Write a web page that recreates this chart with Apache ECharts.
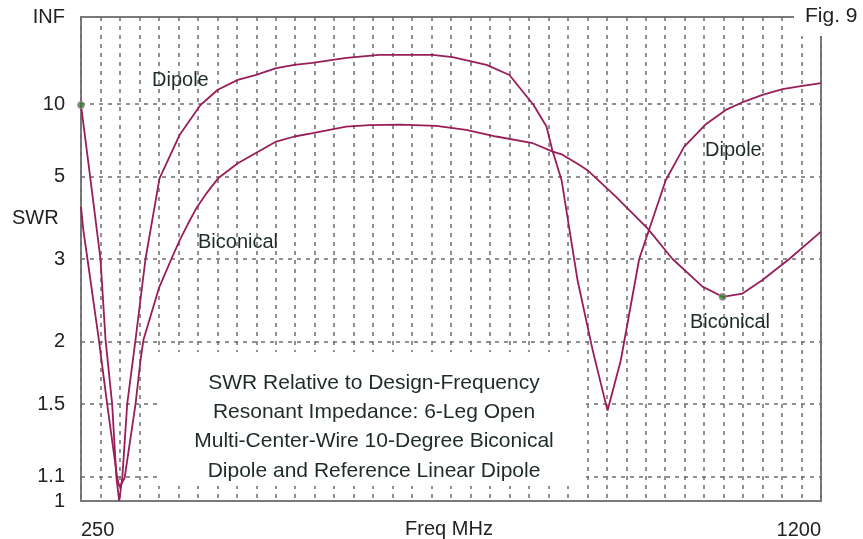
<!DOCTYPE html>
<html>
<head>
<meta charset="utf-8">
<script src="https://cdn.jsdelivr.net/npm/echarts@6/dist/echarts.min.js"></script>
<style>
  html, body { margin: 0; padding: 0; background: #fff; }
  #chart { width: 863px; height: 539px; }
</style>
</head>
<body>
<div id="chart"></div>
<script>
  // Dipole SWR vs frequency (MHz)
  var dipoleFreq = [250, 262, 275, 281.5, 290, 295.5, 299, 303, 309.3, 320, 332.8, 350.8, 376.5, 403.4, 425.6, 451.3, 474.9, 500.6, 524, 547, 590.8, 633, 701, 727, 770.6, 800, 831, 847.6, 855, 866.9, 887.4, 906.7, 923.4, 926, 943, 966.6, 1000.8, 1024.4, 1051.7, 1077.8, 1101.4, 1124.9, 1150.6, 1176.3, 1200]
  var dipoleSwr = [10, 5, 3, 2, 1.5, 1.1, 1.0, 1.1, 1.5, 2, 3, 5, 7.2, 10, 12.3, 14.4, 15.75, 17.9, 19.2, 20.1, 22.7, 24.6, 24.6, 23.1, 19.2, 15.7, 10, 7.84, 6.28, 4.94, 2.68, 1.91, 1.51, 1.46, 1.82, 3, 4.94, 6.47, 8.0, 9.42, 10.45, 11.43, 12.41, 13.06, 13.63]

  // Biconical SWR vs frequency (MHz)
  var biconFreq = [250, 253, 258.3, 272.9, 283.6, 296.5, 299.5, 306, 320, 326.4, 330.2, 350, 366, 376.5, 387, 398, 412, 426, 451.3, 500.6, 524, 547.6, 590.5, 620.4, 660, 706, 744.5, 783, 830, 855.7, 868.1, 890, 900.2, 936.6, 977.3, 1009.4, 1047.9, 1073.6, 1099.2, 1124.9, 1159.2, 1200]
  var biconSwr = [4.1, 3.54, 3, 2, 1.5, 1.1, 1.06, 1.1, 1.5, 1.82, 2, 2.57, 3, 3.33, 3.67, 4.06, 4.52, 5, 5.62, 6.77, 7.1, 7.33, 7.83, 7.96, 8.0, 7.89, 7.57, 7.1, 6.67, 6.19, 6.03, 5.54, 5.32, 4.39, 3.58, 3, 2.59, 2.46, 2.5, 2.68, 3, 3.51]

  // green markers
  var markerFreq = [250, 1073.6]
  var markerSwr = [10, 2.46]

  // SWR grid lines / labels on the left
  var swrTicks = ['INF', 10, 5, 3, 2, 1.5, 1.1, 1]

  var FONT = '"Liberation Sans", Arial, sans-serif'
  var CURVE = '#981e5a'
  var INK = '#1f2b28'

  // SWR -> reflection coefficient, which is what the vertical scale is linear in
  function gamma (s) {
    if (s === 'INF') return 1
    return (s - 1) / (s + 1)
  }
  function pairs (xs, ys) {
    return xs.map(function (x, i) { return [x, gamma(ys[i])] })
  }

  var gridLines = swrTicks.map(function (s) {
    var edge = (s === 'INF' || s === 1)
    return {
      name: String(s),
      yAxis: gamma(s),
      lineStyle: edge ? { color: 'rgba(0,0,0,0)' } : {}
    }
  })

  var chart = echarts.init(document.getElementById('chart'))
  var option = {
    animation: false,
    backgroundColor: '#fff',
    grid: {
      left: 81, top: 17, right: 42, bottom: 38,
      outerBoundsMode: 'none',
      containLabel: false,
      show: true,
      borderColor: '#7a7a7a',
      borderWidth: 2,
      backgroundColor: 'transparent'
    },
    xAxis: {
      type: 'value',
      min: 250,
      max: 1200,
      interval: 25,
      axisLine: { show: false },
      axisTick: { show: false },
      axisLabel: {
        margin: 19,
        fontFamily: FONT,
        fontSize: 20,
        color: '#222',
        verticalAlign: 'top',
        alignMinLabel: 'left',
        alignMaxLabel: 'right',
        showMinLabel: true,
        showMaxLabel: true,
        formatter: function (v) { return (v === 250 || v === 1200) ? String(v) : '' }
      },
      splitLine: {
        show: true,
        lineStyle: { color: '#6e6e6e', width: 1.5, type: [4, 5] }
      }
    },
    yAxis: {
      type: 'value',
      min: 0,
      max: 1,
      axisLine: { show: false },
      axisTick: { show: false },
      axisLabel: { show: false },
      splitLine: { show: false }
    },
    series: [
      {
        name: 'Dipole',
        type: 'line',
        data: pairs(dipoleFreq, dipoleSwr),
        showSymbol: false,
        lineStyle: { color: CURVE, width: 1.8 },
        z: 3
      },
      {
        name: 'Biconical',
        type: 'line',
        data: pairs(biconFreq, biconSwr),
        showSymbol: false,
        lineStyle: { color: CURVE, width: 1.8 },
        z: 3,
        markLine: {
          silent: true,
          symbol: ['none', 'none'],
          lineStyle: { color: '#6e6e6e', width: 1.5, type: [4, 5] },
          label: {
            show: true,
            position: 'start',
            distance: 16,
            formatter: '{b}',
            fontFamily: FONT,
            fontSize: 20,
            color: '#222'
          },
          emphasis: { disabled: true },
          data: gridLines,
          z: 1
        }
      },
      {
        name: 'markers',
        type: 'scatter',
        data: pairs(markerFreq, markerSwr),
        symbolSize: 7,
        itemStyle: { color: '#2d8a2d', borderColor: '#d070c0', borderWidth: 1 },
        z: 4
      }
    ],
    graphic: [
      // white box behind the caption hides the grid lines
      { type: 'rect', z: 50, shape: { x: 158, y: 352, width: 428, height: 134 }, style: { fill: '#fff' } },
      { type: 'text', z: 51, style: { text: 'SWR Relative to Design-Frequency', x: 374, y: 383, textAlign: 'center', textVerticalAlign: 'middle', fontFamily: FONT, fontSize: 21, fill: INK } },
      { type: 'text', z: 51, style: { text: 'Resonant Impedance: 6-Leg Open', x: 374, y: 412, textAlign: 'center', textVerticalAlign: 'middle', fontFamily: FONT, fontSize: 21, fill: INK } },
      { type: 'text', z: 51, style: { text: 'Multi-Center-Wire 10-Degree Biconical', x: 374, y: 441, textAlign: 'center', textVerticalAlign: 'middle', fontFamily: FONT, fontSize: 21, fill: INK } },
      { type: 'text', z: 51, style: { text: 'Dipole and Reference Linear Dipole', x: 374, y: 471, textAlign: 'center', textVerticalAlign: 'middle', fontFamily: FONT, fontSize: 21, fill: INK } },
      // curve labels
      { type: 'text', z: 51, style: { text: 'Dipole', x: 152, y: 80, textVerticalAlign: 'middle', fontFamily: FONT, fontSize: 20, fill: INK } },
      { type: 'text', z: 51, style: { text: 'Biconical', x: 198, y: 242, textVerticalAlign: 'middle', fontFamily: FONT, fontSize: 20, fill: INK } },
      { type: 'text', z: 51, style: { text: 'Dipole', x: 705, y: 150, textVerticalAlign: 'middle', fontFamily: FONT, fontSize: 20, fill: INK } },
      { type: 'text', z: 51, style: { text: 'Biconical', x: 690, y: 322, textVerticalAlign: 'middle', fontFamily: FONT, fontSize: 20, fill: INK } },
      // axis titles and figure number
      { type: 'text', z: 51, style: { text: 'SWR', x: 12, y: 218, textVerticalAlign: 'middle', fontFamily: FONT, fontSize: 20, fill: '#222' } },
      { type: 'text', z: 51, style: { text: 'Freq MHz', x: 449, y: 529, textAlign: 'center', textVerticalAlign: 'middle', fontFamily: FONT, fontSize: 20, fill: '#222' } },
      { type: 'rect', z: 50, shape: { x: 794, y: 0, width: 69, height: 36 }, style: { fill: '#fff' } },
      { type: 'text', z: 51, style: { text: 'Fig. 9', x: 805, y: 16, textVerticalAlign: 'middle', fontFamily: FONT, fontSize: 21, fill: '#222' } }
    ]
  }
  chart.setOption(option)
  window.addEventListener('resize', function () {
    chart.resize()
  })
</script>
</body>
</html>
